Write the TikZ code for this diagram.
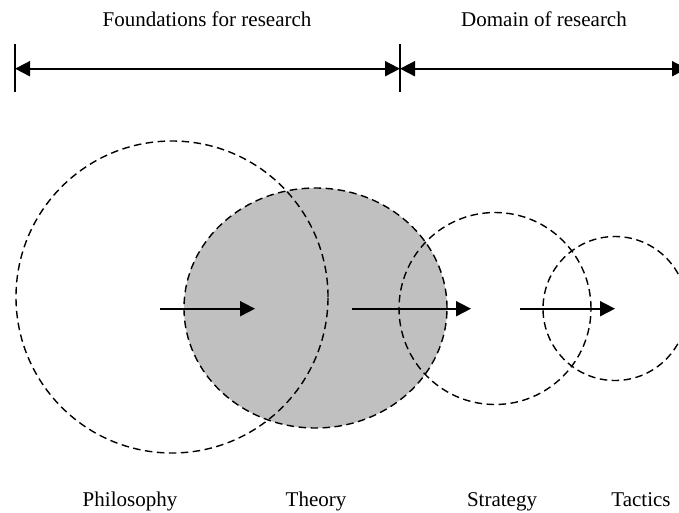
\documentclass[tikz,border=0pt]{standalone}
\usepackage{fontspec}
\setmainfont{Liberation Serif}
\usetikzlibrary{arrows.meta,shapes.geometric}
\definecolor{silver}{RGB}{192,192,192}
\begin{document}
\begin{tikzpicture}[x=1pt,y=-1pt,
    ring/.style={draw,dash pattern=on 7.5pt off 4.5pt,line width=1.4pt,inner sep=0pt},
    flow/.style={line width=1.8pt,-{Triangle[length=15pt,width=15pt]}},
    txt/.style={anchor=base,inner sep=0pt,font=\fontsize{21}{25}\selectfont}]
\useasboundingbox (0,0) rectangle (679,512);
\node[ellipse,ring,fill=silver,minimum width=263pt,minimum height=240pt] (theory) at (315.5,308) {};
\node[circle,ring,minimum size=312pt] (philosophy) at (172,297) {};
\node[circle,ring,minimum size=192pt] (strategy) at (495,308.5) {};
\node[circle,ring,minimum size=144pt] (tactics) at (615,308.5) {};
\coordinate (a0) at (160,308.7);
\coordinate (a1) at (255,308.7);
\coordinate (b0) at (351.5,308.7);
\coordinate (b1) at (471,308.7);
\coordinate (c0) at (519.5,308.7);
\coordinate (c1) at (615,308.7);
\draw[flow] (a0) -- (a1);
\draw[flow] (b0) -- (b1);
\draw[flow] (c0) -- (c1);
% scale bar on top
\coordinate (left) at (15,68.7);
\coordinate (mid) at (400,68.7);
\coordinate (right) at (687,68.7);
\draw[line width=1.8pt] (15,44) -- (15,92);
\draw[line width=1.8pt] (400,44) -- (400,92);
\draw[flow,{Triangle[length=15pt,width=15pt]}-{Triangle[length=15pt,width=15pt]}] (left) -- (mid);
\draw[flow,{Triangle[length=15pt,width=15pt]}-{Triangle[length=15pt,width=15pt]}] (mid) -- (right);
\node[txt] (foundations) at (207,26.7) {Foundations for research};
\node[txt] (domain) at (544,26.7) {Domain of research};
\node[txt] (philo) at (130,506.7) {Philosophy};
\node[txt] (theo) at (316,506.7) {Theory};
\node[txt] (strat) at (502,506.7) {Strategy};
\node[txt] (tact) at (641,506.7) {Tactics};
\end{tikzpicture}
\end{document}
